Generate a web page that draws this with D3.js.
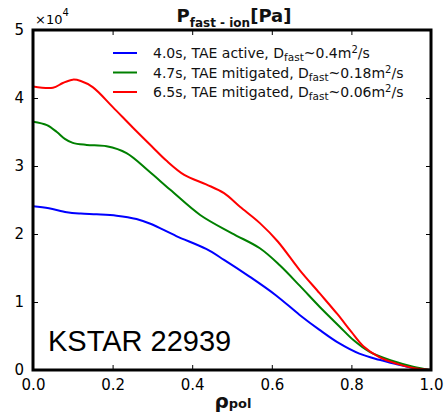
<!DOCTYPE html>
<html>
<head>
<meta charset="utf-8">
<script src="https://cdn.jsdelivr.net/npm/d3@7"></script>
<style>
  html, body { margin: 0; padding: 0; background: #fff; }
  svg { display: block; }
</style>
</head>
<body>
<svg id="chart" width="444" height="413"></svg>
<script>
// Fast-ion pressure profiles, in units of 1e4 Pa, versus normalized poloidal flux radius
const rhoBlue  = [0, 0.04, 0.085, 0.12, 0.16, 0.21, 0.26, 0.295, 0.36, 0.435, 0.48, 0.545, 0.61, 0.67, 0.72, 0.77, 0.82, 0.87, 0.91, 0.955, 1.0];
const presBlue = [2.41, 2.38, 2.32, 2.30, 2.29, 2.27, 2.22, 2.15, 1.97, 1.78, 1.62, 1.37, 1.10, 0.81, 0.59, 0.39, 0.24, 0.15, 0.09, 0.03, 0.0];

const rhoGreen  = [0, 0.035, 0.06, 0.08, 0.1, 0.135, 0.185, 0.235, 0.29, 0.345, 0.42, 0.5, 0.57, 0.62, 0.67, 0.72, 0.77, 0.805, 0.845, 0.9, 0.955, 1.0];
const presGreen = [3.65, 3.60, 3.50, 3.40, 3.34, 3.31, 3.29, 3.19, 2.93, 2.65, 2.28, 2.01, 1.79, 1.54, 1.24, 0.93, 0.64, 0.44, 0.27, 0.14, 0.05, 0.0];

const rhoRed  = [0, 0.05, 0.075, 0.1, 0.12, 0.15, 0.2, 0.25, 0.3, 0.335, 0.38, 0.435, 0.48, 0.52, 0.57, 0.615, 0.67, 0.72, 0.765, 0.8, 0.83, 0.87, 0.915, 0.955, 1.0];
const presRed = [4.17, 4.15, 4.22, 4.27, 4.25, 4.16, 3.87, 3.57, 3.28, 3.08, 2.87, 2.73, 2.60, 2.40, 2.16, 1.89, 1.47, 1.13, 0.82, 0.56, 0.35, 0.19, 0.09, 0.03, 0.0];

const seriesNames = ["4.0s, TAE active, ", "4.7s, TAE mitigated, ", "6.5s, TAE mitigated, "];
const seriesDiff  = ["~0.4m", "~0.18m", "~0.06m"];
const seriesColors = ["#0000ff", "#008000", "#ff0000"];

const xTicks = [0, 0.2, 0.4, 0.6, 0.8, 1.0];
const yTicks = [0, 1, 2, 3, 4, 5];

const W = 444, H = 413;
const margin = { left: 33, right: 13, top: 30, bottom: 43 };

const svg = d3.select("#chart");
const x = d3.scaleLinear().domain([0, 1]).range([margin.left, W - margin.right]);
const y = d3.scaleLinear().domain([0, 5]).range([H - margin.bottom, margin.top]);

const tickFont = "'DejaVu Sans', sans-serif";
const textFont = "'DejaVu Sans', sans-serif";

// clip the curves to the plot box
svg.append("defs").append("clipPath").attr("id", "plotClip")
  .append("rect")
  .attr("x", margin.left).attr("y", margin.top)
  .attr("width", W - margin.left - margin.right)
  .attr("height", H - margin.top - margin.bottom);

// inward ticks on all four sides
const tickLen = 5;
const axB = d3.axisBottom(x).tickValues(xTicks).tickFormat(d3.format(".1f")).tickSizeInner(-tickLen).tickSizeOuter(0).tickPadding(9);
const axT = d3.axisTop(x).tickValues(xTicks).tickFormat("").tickSizeInner(-tickLen).tickSizeOuter(0);
const axL = d3.axisLeft(y).tickValues(yTicks).tickFormat(d3.format("d")).tickSizeInner(-tickLen).tickSizeOuter(0).tickPadding(9);
const axR = d3.axisRight(y).tickValues(yTicks).tickFormat("").tickSizeInner(-tickLen).tickSizeOuter(0);

function styleAxis(g) {
  g.select(".domain").remove();
  g.selectAll(".tick line").attr("stroke", "#000").attr("stroke-width", 1);
  g.selectAll(".tick text").attr("font-family", tickFont).attr("font-size", 15).attr("fill", "#000");
}

svg.append("g").attr("transform", `translate(0,${y(0)})`).call(axB).call(styleAxis);
svg.append("g").attr("transform", `translate(0,${y(5)})`).call(axT).call(styleAxis);
svg.append("g").attr("transform", `translate(${x(0)},0)`).call(axL).call(styleAxis);
svg.append("g").attr("transform", `translate(${x(1)},0)`).call(axR).call(styleAxis);

// profiles
const line = d3.line().x(d => x(d[0])).y(d => y(d[1])).curve(d3.curveCatmullRom.alpha(0.5));
const series = [
  d3.zip(rhoBlue, presBlue),
  d3.zip(rhoGreen, presGreen),
  d3.zip(rhoRed, presRed)
];
svg.append("g").attr("clip-path", "url(#plotClip)")
  .selectAll("path").data(series).join("path")
  .attr("d", line)
  .attr("fill", "none")
  .attr("stroke", (d, i) => seriesColors[i])
  .attr("stroke-width", 2)
  .attr("stroke-linejoin", "round");

// frame
svg.append("rect")
  .attr("x", x(0)).attr("y", y(5))
  .attr("width", x(1) - x(0)).attr("height", y(0) - y(5))
  .attr("fill", "none").attr("stroke", "#000").attr("stroke-width", 3);

// legend
const legend = svg.append("g");
const rowY = [53, 72.5, 92];
seriesNames.forEach((name, i) => {
  legend.append("line")
    .attr("x1", 113).attr("x2", 137).attr("y1", rowY[i]).attr("y2", rowY[i])
    .attr("stroke", seriesColors[i]).attr("stroke-width", 2);
  const t = legend.append("text")
    .attr("x", 153).attr("y", rowY[i] + 5)
    .attr("font-family", textFont).attr("font-size", 14).attr("fill", "#111");
  t.append("tspan").text(name + "D");
  t.append("tspan").attr("font-size", 10.5).attr("dy", 3).text("fast");
  t.append("tspan").attr("dy", -3).text(seriesDiff[i]);
  t.append("tspan").attr("font-size", 10).attr("dy", -5).text("2");
  t.append("tspan").attr("dy", 5).text("/s");
});

// title
const title = svg.append("text")
  .attr("x", 234).attr("y", 22)
  .attr("text-anchor", "middle")
  .attr("font-family", textFont).attr("font-size", 18).attr("font-weight", 600).attr("fill", "#111");
title.append("tspan").text("P");
title.append("tspan").attr("font-size", 12).attr("dy", 5).text("fast - ion");
title.append("tspan").attr("dy", -5).text("[Pa]");

// scale multiplier
const mult = svg.append("text")
  .attr("x", 35).attr("y", 24)
  .attr("font-family", tickFont).attr("font-size", 13).attr("fill", "#000");
mult.append("tspan").text("×10");
mult.append("tspan").attr("font-size", 10).attr("dy", -8).text("4");

// x axis label
const xl = svg.append("text")
  .attr("x", 233).attr("y", 408)
  .attr("text-anchor", "middle")
  .attr("font-family", textFont).attr("font-weight", 700).attr("font-size", 20).attr("fill", "#111");
xl.append("tspan").text("ρ");
xl.append("tspan").attr("font-size", 13).attr("dy", 0).text("pol");

// shot annotation
svg.append("text")
  .attr("x", 48).attr("y", 351)
  .attr("font-family", "'Liberation Sans', Arial, sans-serif")
  .attr("font-size", 29).attr("fill", "#000")
  .text("KSTAR 22939");
</script>
</body>
</html>
